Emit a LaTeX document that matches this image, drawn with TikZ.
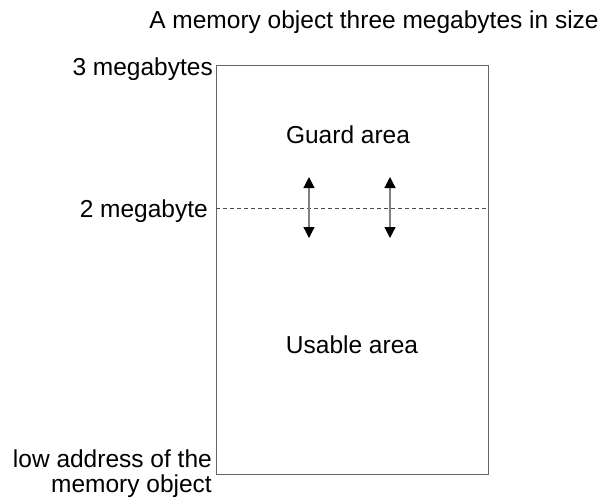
\documentclass[tikz,border=0pt]{standalone}
\usepackage{fontspec}
\setmainfont{Liberation Sans}
\usetikzlibrary{arrows.meta}
\begin{document}
\begin{tikzpicture}[x=1pt,y=-1pt,
  lbl/.style={font=\fontsize{24.5}{25}\selectfont, inner sep=0pt},
  box/.style={draw=black!60, line width=0.8pt},
  dline/.style={draw=black!70, dashed, dash pattern=on 4pt off 3pt, line width=0.7pt},
  dbl/.style={draw=black!50, line width=1.2pt, {Triangle[width=11pt,length=11pt,black]}-{Triangle[width=11pt,length=11pt,black]}}]
\useasboundingbox (0,0) rectangle (604,499);
\coordinate (tl) at (216,65);
\coordinate (br) at (488,474);
\draw[box] (tl) rectangle (br);
\coordinate (dl) at (216,208);
\coordinate (dr) at (488,208);
\draw[dline] (dl) -- (dr);
\coordinate (a1t) at (309,177);
\coordinate (a1b) at (309,238);
\coordinate (a2t) at (390,177);
\coordinate (a2b) at (390,238);
\draw[dbl] (a1t) -- (a1b);
\draw[dbl] (a2t) -- (a2b);
\node[lbl] (title) at (374,22) {A memory object three megabytes in size};
\node[lbl, anchor=east] (l3) at (213,69) {3 megabytes};
\node[lbl, anchor=east] (l2) at (208,211) {2 megabyte};
\node[lbl, anchor=east, align=right] (l0) at (212,474) {low address of the\\memory object};
\node[lbl] (guard) at (348,135) {Guard area};
\node[lbl] (usable) at (352,345) {Usable area};
\end{tikzpicture}
\end{document}
